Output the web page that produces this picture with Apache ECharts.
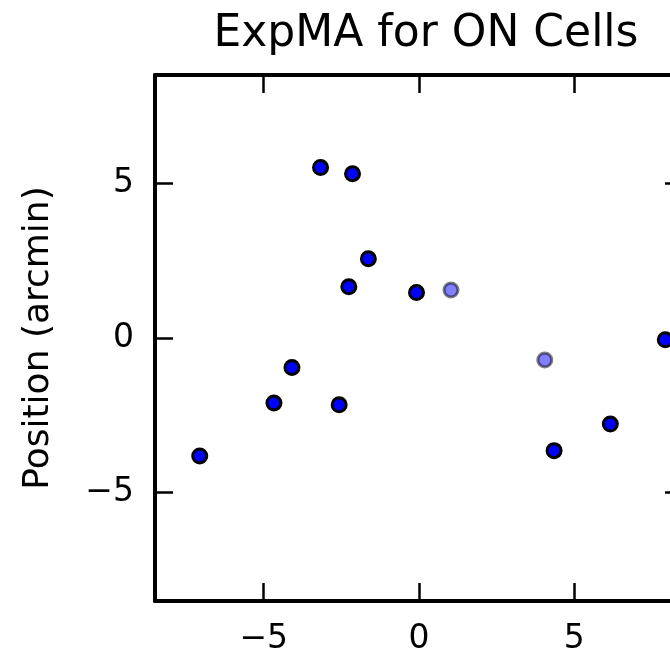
<!DOCTYPE html>
<html>
<head>
<meta charset="utf-8">
<script src="https://cdn.jsdelivr.net/npm/echarts@6/dist/echarts.min.js"></script>
<style>
html,body{margin:0;padding:0;background:#fff;overflow:hidden;}
#chart{width:700px;height:656px;}
</style>
</head>
<body>
<div id="chart"></div>
<script>
// Data
const titleText = 'ExpMA for ON Cells';
const yAxisName = 'Position (arcmin)';
const xTicks = [-5, 0, 5];
const yTicks = [-5, 0, 5];
const xMin = -8.5, xMax = 8.5;
const yMin = -8.5, yMax = 8.5;
const cellX = [-3.17, -2.14, -1.63, -2.26, -0.08, 7.93, -4.09, -4.67, -2.57, 6.16, 4.35, -7.06];
const cellY = [5.51, 5.31, 2.56, 1.66, 1.47, -0.06, -0.95, -2.10, -2.16, -2.78, -3.64, -3.81];
const fadedX = [1.03, 4.05];
const fadedY = [1.55, -0.71];

const FONT = 'DejaVu Sans';
const fmt = v => String(v).replace('-', '\u2212');
const pairs = (xs, ys) => xs.map((x, i) => [x, ys[i]]);

const axLine = {show: true, onZero: false, lineStyle: {color: '#000', width: 4}};
const tick = (vals) => ({show: true, inside: true, length: 18, lineStyle: {color: '#000', width: 2.5}, customValues: vals});

const chart = echarts.init(document.getElementById('chart'), null, {renderer: 'canvas'});
chart.setOption({
  backgroundColor: '#fff',
  animation: false,
  title: {
    text: titleText,
    left: 421,
    top: 8,
    textAlign: 'center',
    textStyle: {fontFamily: FONT, fontSize: 44, fontWeight: 'normal', color: '#000'}
  },
  grid: {left: 155, top: 75, width: 528, height: 529, containLabel: false},
  xAxis: [
    {type: 'value', position: 'bottom', min: xMin, max: xMax,
     axisLine: axLine,
     axisTick: tick(xTicks),
     axisLabel: {show: true, customValues: xTicks, formatter: fmt, margin: 22, fontFamily: FONT, fontSize: 33, color: '#000'},
     splitLine: {show: false}},
    {type: 'value', position: 'top', min: xMin, max: xMax,
     axisLine: axLine,
     axisTick: tick(xTicks),
     axisLabel: {show: false},
     splitLine: {show: false}}
  ],
  yAxis: [
    {type: 'value', position: 'left', min: yMin, max: yMax,
     name: yAxisName, nameLocation: 'middle', nameGap: 98, nameRotate: 90,
     nameTextStyle: {fontFamily: FONT, fontSize: 36, color: '#000'},
     axisLine: axLine,
     axisTick: tick(yTicks),
     axisLabel: {show: true, customValues: yTicks, formatter: fmt, margin: 21, fontFamily: FONT, fontSize: 33, color: '#000'},
     splitLine: {show: false}},
    {type: 'value', position: 'right', min: yMin, max: yMax,
     axisLine: axLine,
     axisTick: tick(yTicks),
     axisLabel: {show: false},
     splitLine: {show: false}}
  ],
  series: [
    {type: 'scatter', xAxisIndex: 0, yAxisIndex: 0, data: pairs(cellX, cellY),
     symbol: 'circle', symbolSize: 14,
     itemStyle: {color: '#0000ff', borderColor: '#000', borderWidth: 3, opacity: 1}},
    {type: 'scatter', xAxisIndex: 0, yAxisIndex: 0, data: pairs(fadedX, fadedY),
     symbol: 'circle', symbolSize: 14,
     itemStyle: {color: '#0000ff', borderColor: '#000', borderWidth: 3, opacity: 0.5}}
  ]
});
</script>
</body>
</html>
